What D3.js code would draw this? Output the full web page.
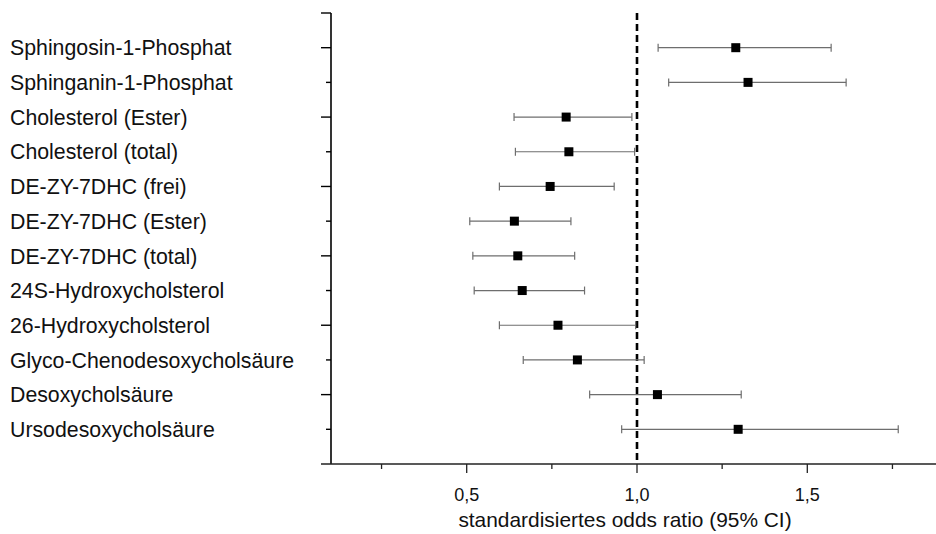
<!DOCTYPE html>
<html>
<head>
<meta charset="utf-8">
<script src="https://cdn.jsdelivr.net/npm/d3@7"></script>
<style>
  html, body { margin: 0; padding: 0; background: #fff; }
  svg { display: block; font-family: "Liberation Sans", Arial, sans-serif; }
</style>
</head>
<body>
<svg id="chart" width="936" height="534"></svg>
<script>
const categories = [
  "Sphingosin-1-Phosphat",
  "Sphinganin-1-Phosphat",
  "Cholesterol (Ester)",
  "Cholesterol (total)",
  "DE-ZY-7DHC (frei)",
  "DE-ZY-7DHC (Ester)",
  "DE-ZY-7DHC (total)",
  "24S-Hydroxycholsterol",
  "26-Hydroxycholsterol",
  "Glyco-Chenodesoxycholsäure",
  "Desoxycholsäure",
  "Ursodesoxycholsäure"
];
const oddsRatio = [1.290, 1.326, 0.792, 0.800, 0.745, 0.640, 0.650, 0.663, 0.768, 0.825, 1.060, 1.297];
const ciLower   = [1.062, 1.093, 0.639, 0.643, 0.596, 0.509, 0.518, 0.522, 0.596, 0.666, 0.861, 0.955];
const ciUpper   = [1.570, 1.614, 0.985, 0.993, 0.933, 0.806, 0.817, 0.846, 0.996, 1.021, 1.306, 1.767];
const xTickValues = [0.25, 0.5, 0.75, 1.0, 1.25, 1.5, 1.75];
const xTickLabels = {0.5: "0,5", 1.0: "1,0", 1.5: "1,5"};
const xTitle = "standardisiertes odds ratio (95% CI)";
const refValue = 1.0;

(function () {
const svg = d3.select("#chart");
const plotLeft = 331, plotRight = 936, plotTop = 13, plotBottom = 464;

// x: 0.5 -> 466.7, 1.5 -> 807.3
const x = d3.scaleLinear().domain([0.5, 1.5]).range([466.7, 807.3]);
const y = d3.scaleLinear().domain([0, categories.length + 1]).range([plotTop, plotBottom]);

const data = categories.map((c, i) => ({c, i: i + 1, or: oddsRatio[i], lo: ciLower[i], hi: ciUpper[i]}));

// y-axis line
svg.append("line")
  .attr("x1", plotLeft).attr("x2", plotLeft)
  .attr("y1", plotTop).attr("y2", plotBottom)
  .attr("stroke", "#000").attr("stroke-width", 1.6);

// y ticks
d3.range(0, categories.length + 1).forEach(k => {
  const long = (k === 0) || (k % 2 === 1);
  svg.append("line")
    .attr("x1", plotLeft - (long ? 10 : 5)).attr("x2", plotLeft)
    .attr("y1", y(k)).attr("y2", y(k))
    .attr("stroke", "#000").attr("stroke-width", 1.4);
});

// x-axis
svg.append("line")
  .attr("x1", 321).attr("x2", plotRight)
  .attr("y1", plotBottom).attr("y2", plotBottom)
  .attr("stroke", "#222").attr("stroke-width", 1.6);

xTickValues.forEach(v => {
  const major = xTickLabels[v] !== undefined;
  svg.append("line")
    .attr("x1", x(v)).attr("x2", x(v))
    .attr("y1", plotBottom).attr("y2", plotBottom + (major ? 9 : 5))
    .attr("stroke", "#222").attr("stroke-width", 1.3);
  if (major) {
    svg.append("text")
      .attr("x", x(v)).attr("y", plotBottom + 37)
      .attr("text-anchor", "middle")
      .attr("font-size", 18)
      .attr("fill", "#111")
      .text(xTickLabels[v]);
  }
});

// axis title
svg.append("text")
  .attr("x", 625).attr("y", 527)
  .attr("text-anchor", "middle")
  .attr("font-size", 20.9)
  .attr("fill", "#111")
  .text(xTitle);

// category labels
svg.selectAll("text.cat").data(data).enter().append("text")
  .attr("class", "cat")
  .attr("x", 10)
  .attr("y", d => y(d.i))
  .attr("dy", "0.36em")
  .attr("font-size", 21.3)
  .attr("fill", "#111")
  .text(d => d.c);

// reference line
svg.append("line")
  .attr("x1", x(refValue)).attr("x2", x(refValue))
  .attr("y1", plotTop).attr("y2", plotBottom)
  .attr("stroke", "#000").attr("stroke-width", 2.6)
  .attr("stroke-dasharray", "7,4");

// error bars
const eb = svg.selectAll("g.eb").data(data).enter().append("g").attr("class", "eb");
eb.append("line")
  .attr("x1", d => x(d.lo)).attr("x2", d => x(d.hi))
  .attr("y1", d => y(d.i)).attr("y2", d => y(d.i))
  .attr("stroke", "#6e6e6e").attr("stroke-width", 1.2);
eb.append("line")
  .attr("x1", d => x(d.lo)).attr("x2", d => x(d.lo))
  .attr("y1", d => y(d.i) - 4).attr("y2", d => y(d.i) + 4)
  .attr("stroke", "#6e6e6e").attr("stroke-width", 1.2);
eb.append("line")
  .attr("x1", d => x(d.hi)).attr("x2", d => x(d.hi))
  .attr("y1", d => y(d.i) - 4).attr("y2", d => y(d.i) + 4)
  .attr("stroke", "#6e6e6e").attr("stroke-width", 1.2);

// points
svg.selectAll("rect.pt").data(data).enter().append("rect")
  .attr("class", "pt")
  .attr("x", d => x(d.or) - 4.5)
  .attr("y", d => y(d.i) - 4.5)
  .attr("width", 9).attr("height", 9)
  .attr("fill", "#000");
})();
</script>
</body>
</html>
